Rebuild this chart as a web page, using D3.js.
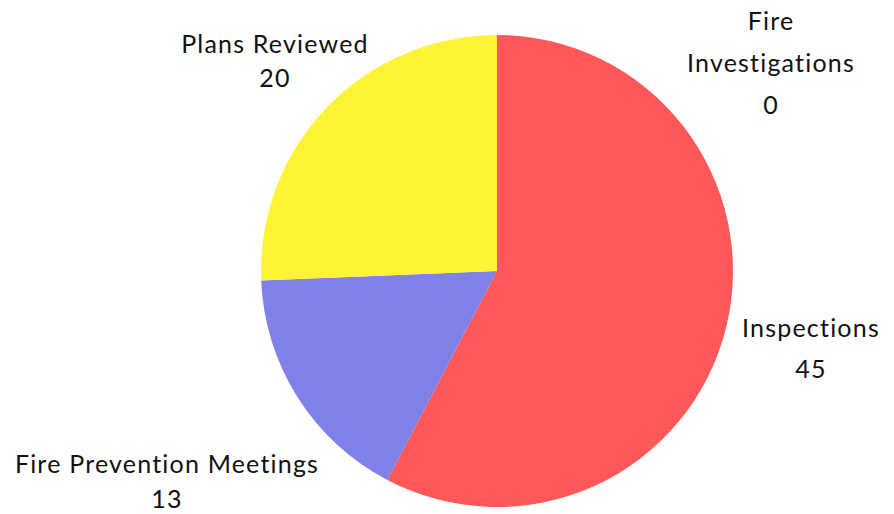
<!DOCTYPE html>
<html>
<head>
<meta charset="utf-8">
<script src="https://cdn.jsdelivr.net/npm/d3@7"></script>
<style>
  html, body { margin: 0; padding: 0; background: #fff; }
  svg { display: block; }
</style>
</head>
<body>
<svg id="chart"></svg>
<script>
// data
const categories = ["Inspections", "Fire Prevention Meetings", "Plans Reviewed", "Fire Investigations"];
const values = [45, 13, 20, 0];
const colors = ["#FF5858", "#7F80E8", "#FFF336", "#9ad0f5"];

const width = 894;
const height = 514;
const cx = 497, cy = 271, radius = 236;

// where each label sits, relative to pie centre (first baseline), and its line gap
const labelSpot = {
  "Inspections": { dx: 314, dy: 66, gap: 41, lines: ["Inspections"] },
  "Fire Prevention Meetings": { dx: -330, dy: 202, gap: 35, lines: ["Fire Prevention Meetings"] },
  "Plans Reviewed": { dx: -222, dy: -218, gap: 34, lines: ["Plans Reviewed"] },
  "Fire Investigations": { dx: 274, dy: -241, gap: 42, lines: ["Fire", "Investigations"] }
};

const data = categories.map((c, i) => ({ name: c, value: values[i], color: colors[i] }));

const svg = d3.select("#chart")
  .attr("width", width)
  .attr("height", height);

const pie = d3.pie()
  .sort(null)
  .value(d => d.value);

const arc = d3.arc()
  .innerRadius(0)
  .outerRadius(radius);

const g = svg.append("g")
  .attr("transform", `translate(${cx},${cy})`);

g.selectAll("path")
  .data(pie(data))
  .enter()
  .append("path")
  .attr("d", arc)
  .attr("fill", d => d.data.color);

// labels
const labels = g.selectAll("text")
  .data(pie(data))
  .enter()
  .append("text")
  .attr("text-anchor", "middle")
  .attr("font-family", "Lato, 'Open Sans', sans-serif")
  .attr("font-size", "25px")
  .attr("letter-spacing", "1.2px")
  .attr("fill", "#111");

labels.each(function(d) {
  const spot = labelSpot[d.data.name];
  const t = d3.select(this);
  const lines = spot.lines.concat([String(d.data.value)]);
  lines.forEach((line, i) => {
    t.append("tspan")
      .attr("x", spot.dx)
      .attr("y", spot.dy + i * spot.gap)
      .text(line);
  });
});
</script>
</body>
</html>
